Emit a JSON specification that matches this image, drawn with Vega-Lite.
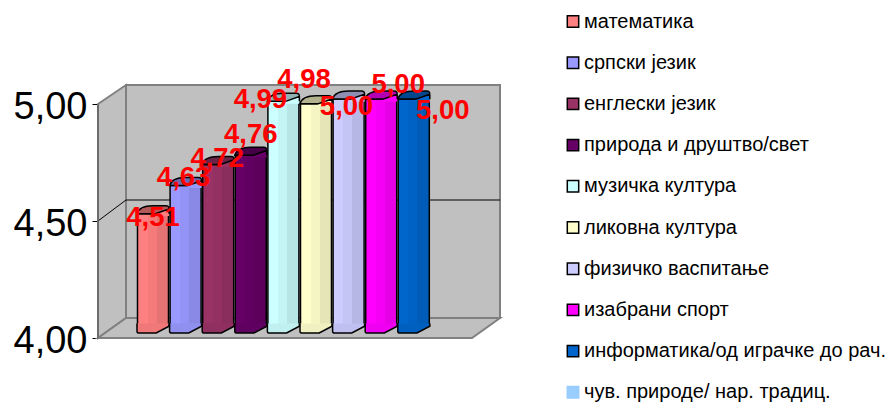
{
"$schema":"https://vega.github.io/schema/vega-lite/v6.json",
"width":790,"height":402,"autosize":"none",
"padding":{"left":98,"top":0,"right":0,"bottom":0},
"background":"#ffffff",
"config":{"view":{"stroke":null},"font":"Liberation Sans"},
"datasets":{
"ocene":[
{"predmet":"математика","redni":1,"ocena":4.51,"natpis":"4,51"},
{"predmet":"српски језик","redni":2,"ocena":4.63,"natpis":"4,63"},
{"predmet":"енглески језик","redni":3,"ocena":4.72,"natpis":"4,72"},
{"predmet":"природа и друштво/свет","redni":4,"ocena":4.76,"natpis":"4,76"},
{"predmet":"музичка култура","redni":5,"ocena":4.99,"natpis":"4,99"},
{"predmet":"ликовна култура","redni":6,"ocena":4.98,"natpis":"4,98"},
{"predmet":"физичко васпитање","redni":7,"ocena":5.0,"natpis":"5,00"},
{"predmet":"изабрани спорт","redni":8,"ocena":5.0,"natpis":"5,00"},
{"predmet":"информатика/од играчке до рач.","redni":9,"ocena":5.0,"natpis":"5,00"}
],
"zid":[{"a":0.172,"b":11.644,"d":4.0855,"g":5.081}],
"bok":[{"a":-0.687,"d":4.0,"g":5.0},{"a":0.172,"d":4.0855,"g":5.081}],
"pod":[{"a":-0.687,"d":4.0,"g":4.0},{"a":0.172,"d":4.0,"g":4.0855},{"a":10.785,"d":4.0,"g":4.0855},{"a":11.644,"d":4.0855,"g":4.0855}],
"mreza":[{"a":-0.687,"g":4.5},{"a":0.172,"g":4.5897},{"a":11.644,"g":4.5897}],
"osa":[{"a":-0.687,"g":4.0},{"a":-0.687,"g":5.0}]
},
"data":{"name":"ocene"},
"encoding":{
"x":{"field":"redni","type":"quantitative","axis":null,"scale":{"domain":[-0.687,23.546],"nice":false,"zero":false,"padding":0}},
"y":{"field":"ocena","type":"quantitative","title":null,"scale":{"domain":[3.7265,5.4444],"nice":false,"zero":false,"padding":0},
"axis":{"values":[4,4.5,5],"labelExpr":"replace(format(datum.value,'.2f'),'.',',')","labelFontSize":38,"labelColor":"#000000","labelPadding":5,"labelOffset":4,"tickSize":6,"tickColor":"#000000","tickWidth":1,"domain":false,"grid":false,"title":null}}
},
"layer":[
{"data":{"name":"zid"},"mark":{"type":"rect","fill":"#c0c0c0","stroke":"#808080","strokeWidth":2},
 "encoding":{"x":{"field":"a","type":"quantitative"},"x2":{"field":"b"},"y":{"field":"d","type":"quantitative"},"y2":{"field":"g"}}},
{"data":{"name":"bok"},"mark":{"type":"area","fill":"#c0c0c0","stroke":"#808080","strokeWidth":2,"line":false,"orient":"vertical"},
 "encoding":{"x":{"field":"a","type":"quantitative"},"y":{"field":"g","type":"quantitative"},"y2":{"field":"d"}}},
{"data":{"name":"pod"},"mark":{"type":"area","fill":"#c0c0c0","stroke":"#808080","strokeWidth":2,"orient":"vertical"},
 "encoding":{"x":{"field":"a","type":"quantitative"},"y":{"field":"g","type":"quantitative"},"y2":{"field":"d"}}},
{"data":{"name":"mreza"},"mark":{"type":"line","stroke":"#000000","strokeWidth":1},
 "encoding":{"x":{"field":"a","type":"quantitative"},"y":{"field":"g","type":"quantitative"}}},
{"data":{"name":"osa"},"mark":{"type":"line","stroke":"#666666","strokeWidth":1.5},
 "encoding":{"x":{"field":"a","type":"quantitative"},"y":{"field":"g","type":"quantitative"}}},

{"mark":{"type":"bar","width":31,"strokeWidth":1.5,"yOffset":-5,"opacity":1},
 "encoding":{"y2":{"datum":4.051},
 "color":{"field":"predmet","type":"nominal","scale":{"domain":["математика","српски језик","енглески језик","природа и друштво/свет","музичка култура","ликовна култура","физичко васпитање","изабрани спорт","информатика/од играчке до рач.","чув. природе/ нар. традиц."],"range":["#FF8080","#9999FF","#993366","#660066","#CCFFFF","#FFFFCC","#CCCCFF","#FF00FF","#0066CC","#99CCFF"]},
  "legend":{"title":null,"orient":"none","legendX":465,"legendY":11.5,"symbolType":"square","symbolSize":130,"symbolStrokeWidth":1.5,"labelFontSize":20,"labelColor":"#000000","rowPadding":21.2,"labelOffset":1,"labelLimit":400,"values":["математика","српски језик","енглески језик","природа и друштво/свет","музичка култура","ликовна култура","физичко васпитање","изабрани спорт","информатика/од играчке до рач.","чув. природе/ нар. традиц."]}},
 "stroke":{"field":"predmet","type":"nominal","scale":{"domain":["математика","српски језик","енглески језик","природа и друштво/свет","музичка култура","ликовна култура","физичко васпитање","изабрани спорт","информатика/од играчке до рач.","чув. природе/ нар. традиц."],"range":["#000000","#000000","#000000","#000000","#000000","#000000","#000000","#000000","#000000","#99CCFF"]},
  "legend":{"title":null,"orient":"none","legendX":465,"legendY":11.5,"symbolType":"square","symbolSize":130,"symbolStrokeWidth":1.5,"labelFontSize":20,"labelColor":"#000000","rowPadding":21.2,"labelOffset":1,"labelLimit":400,"values":["математика","српски језик","енглески језик","природа и друштво/свет","музичка култура","ликовна култура","физичко васпитање","изабрани спорт","информатика/од играчке до рач.","чув. природе/ нар. традиц."]}}}},
{"mark":{"type":"bar","width":30,"yOffset":-5,"stroke":null,"color":{"gradient":"linear","x1":0,"x2":1,"y1":0,"y2":0,"stops":[{"offset":0,"color":"rgba(0,0,0,0)"},{"offset":0.32,"color":"rgba(0,0,0,0)"},{"offset":0.32,"color":"rgba(0,0,0,0.04)"},{"offset":0.62,"color":"rgba(0,0,0,0.04)"},{"offset":0.62,"color":"rgba(0,0,0,0.1)"},{"offset":1,"color":"rgba(0,0,0,0.1)"}]}},
 "encoding":{"y2":{"datum":4.051}}},
{"mark":{"type":"point","filled":true,"opacity":1,"size":1024,"yOffset":-5,"strokeWidth":0,"shape":"M-1,-0.6 L-1,-0.1 Q-1,0 -0.85,0 L0.2,0 L1,-0.42 L1,-0.6 Z"},
 "encoding":{"y":{"datum":4},"color":{"field":"predmet","type":"nominal"}}},
{"mark":{"type":"point","filled":false,"opacity":1,"size":1024,"yOffset":-5,"stroke":"#000000","strokeWidth":1.5,"fill":"rgba(0,0,0,0.06)","shape":"M-1,-0.6 L-1,-0.1 Q-1,0 -0.85,0 L0.2,0 L1,-0.42 L1,-0.6"},
 "encoding":{"y":{"datum":4}}},
{"mark":{"type":"point","filled":true,"opacity":1,"size":1024,"yOffset":-5,"strokeWidth":0,"shape":"M-1,0 C-0.9,-0.35 -0.5,-0.5 0,-0.5 L0.8,-0.5 C1,-0.5 1,-0.4 1,-0.3 L1,0.15 L0.1,0.15 L0.1,0 Z"},
 "encoding":{"color":{"field":"predmet","type":"nominal"}}},
{"mark":{"type":"point","filled":false,"opacity":1,"size":1024,"yOffset":-5,"stroke":"#000000","strokeWidth":1.5,"fill":"rgba(0,0,0,0.3)","shape":"M-1,0 C-0.9,-0.35 -0.5,-0.5 0,-0.5 L0.8,-0.5 C1,-0.5 1,-0.4 1,-0.3 L0.15,0 Z M1,-0.3 L1,0"}},

{"transform":[{"filter":"datum.redni==1"}],"mark":{"type":"text","color":"#ff0000","fontWeight":"bold","fontSize":27.5,"dx":0,"dy":-1},"encoding":{"text":{"field":"natpis"}}},
{"transform":[{"filter":"datum.redni==2"}],"mark":{"type":"text","color":"#ff0000","fontWeight":"bold","fontSize":27.5,"dx":-2,"dy":-13},"encoding":{"text":{"field":"natpis"}}},
{"transform":[{"filter":"datum.redni==3"}],"mark":{"type":"text","color":"#ff0000","fontWeight":"bold","fontSize":27.5,"dx":-1,"dy":-11},"encoding":{"text":{"field":"natpis"}}},
{"transform":[{"filter":"datum.redni==4"}],"mark":{"type":"text","color":"#ff0000","fontWeight":"bold","fontSize":27.5,"dx":0,"dy":-25},"encoding":{"text":{"field":"natpis"}}},
{"transform":[{"filter":"datum.redni==5"}],"mark":{"type":"text","color":"#ff0000","fontWeight":"bold","fontSize":27.5,"dx":-23,"dy":-6},"encoding":{"text":{"field":"natpis"}}},
{"transform":[{"filter":"datum.redni==6"}],"mark":{"type":"text","color":"#ff0000","fontWeight":"bold","fontSize":27.5,"dx":-12,"dy":-29},"encoding":{"text":{"field":"natpis"}}},
{"transform":[{"filter":"datum.redni==7"}],"mark":{"type":"text","color":"#ff0000","fontWeight":"bold","fontSize":27.5,"dx":-2,"dy":3},"encoding":{"text":{"field":"natpis"}}},
{"transform":[{"filter":"datum.redni==8"}],"mark":{"type":"text","color":"#ff0000","fontWeight":"bold","fontSize":27.5,"dx":17,"dy":-19},"encoding":{"text":{"field":"natpis"}}},
{"transform":[{"filter":"datum.redni==9"}],"mark":{"type":"text","color":"#ff0000","fontWeight":"bold","fontSize":27.5,"dx":29,"dy":7},"encoding":{"text":{"field":"natpis"}}}
]
}
